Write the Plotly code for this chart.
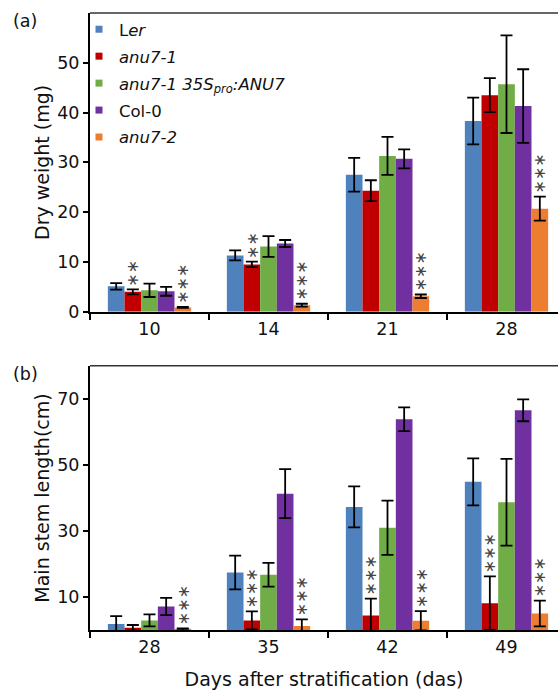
import plotly.graph_objects as go

# ---- data -------------------------------------------------------------
genotypes = ["Ler", "anu7-1", "anu7-1 35Spro:ANU7", "Col-0", "anu7-2"]
legend_labels = ["L<i>er</i>", "<i>anu7-1</i>",
                 "<i>anu7-1 35S<sub>pro</sub>:ANU7</i>", "Col-0", "<i>anu7-2</i>"]
colors = ["#4F81BD", "#C00000", "#70AD47", "#7030A0", "#ED7D31"]

# (a) dry weight (mg)
days_a = ["10", "14", "21", "28"]
dry_mean = {
    "Ler":                [5.1, 11.3, 27.5, 38.3],
    "anu7-1":             [4.0, 9.5, 24.3, 43.5],
    "anu7-1 35Spro:ANU7": [4.3, 13.1, 31.3, 45.7],
    "Col-0":              [4.1, 13.7, 30.7, 41.3],
    "anu7-2":             [0.85, 1.3, 3.1, 20.7],
}
dry_err = {
    "Ler":                [0.65, 1.0, 3.4, 4.7],
    "anu7-1":             [0.5, 0.55, 2.1, 3.4],
    "anu7-1 35Spro:ANU7": [1.35, 2.1, 3.8, 9.8],
    "Col-0":              [0.9, 0.7, 1.9, 7.4],
    "anu7-2":             [0.1, 0.3, 0.35, 2.4],
}
dry_sig = {
    "anu7-1": [2, 2, 0, 0],
    "anu7-2": [3, 3, 3, 3],
}

# (b) main stem length (cm)
days_b = ["28", "35", "42", "49"]
stem_mean = {
    "Ler":                [1.9, 17.5, 37.3, 44.9],
    "anu7-1":             [0.8, 3.0, 4.5, 8.2],
    "anu7-1 35Spro:ANU7": [3.0, 16.8, 31.0, 38.7],
    "Col-0":              [7.2, 41.3, 63.8, 66.5],
    "anu7-2":             [0.3, 1.3, 2.9, 5.1],
}
stem_err = {
    "Ler":                [2.4, 5.1, 6.2, 7.1],
    "anu7-1":             [0.8, 2.7, 5.1, 8.1],
    "anu7-1 35Spro:ANU7": [1.8, 3.6, 8.2, 13.1],
    "Col-0":              [2.6, 7.4, 3.6, 3.3],
    "anu7-2":             [0.3, 2.0, 2.9, 3.9],
}
stem_sig = {
    "anu7-1": [0, 3, 3, 3],
    "anu7-2": [3, 3, 3, 3],
}

# ---- figure -----------------------------------------------------------
W, H = 558, 690
FONT = "DejaVu Sans, Verdana, sans-serif"
INK = "#111111"
fig = go.Figure()

panels = [
    ("x", "y", days_a, dry_mean, dry_err, dry_sig),
    ("x2", "y2", days_b, stem_mean, stem_err, stem_sig),
]

n = len(genotypes)
group_frac = 0.7
bar_w = group_frac / n

for (xa, ya, days, mean, err, sig) in panels:
    for i, g in enumerate(genotypes):
        fig.add_trace(go.Bar(
            x=days, y=mean[g], name=g, xaxis=xa, yaxis=ya,
            marker=dict(color=colors[i], line=dict(width=0)),
            error_y=dict(type="data", array=err[g], visible=True,
                         color="black", thickness=1.8, width=6),
            showlegend=False,
        ))
        # significance asterisks, stacked as one rotated run of glyphs
        if g in sig:
            for j, cnt in enumerate(sig[g]):
                if cnt == 0:
                    continue
                top = mean[g][j] + err[g][j]
                fig.add_annotation(
                    x=j + (i - (n - 1) / 2) * bar_w, y=top,
                    xref=xa, yref=ya, text="∗" * cnt, textangle=-90,
                    showarrow=False, yanchor="bottom", xanchor="center",
                    yshift=2, borderpad=0,
                    font=dict(family="DejaVu Sans", size=16, color="#444"),
                )

# legend entries as small square markers
for i, lab in enumerate(legend_labels):
    fig.add_trace(go.Scatter(
        x=[None], y=[None], mode="markers", name=lab, xaxis="x", yaxis="y",
        marker=dict(symbol="square", size=7, color=colors[i]),
        legendgroup=f"g{i}", showlegend=True,
    ))

x_dom = [90 / W, 1.0]
ya_dom = [1 - 311.7 / H, 1 - 13 / H]
yb_dom = [1 - 630.3 / H, 1 - 365.7 / H]
x_range = [-0.5, -0.5 + (W - 90) / 119]

tick_font = dict(family=FONT, size=17.5, color=INK)
title_font = dict(family=FONT, size=19, color=INK)

common_x = dict(
    type="category", range=x_range, tickson="boundaries",
    ticks="outside", ticklen=6, tickwidth=2, tickcolor="black",
    showline=True, linecolor="black", linewidth=2,
    showgrid=False, zeroline=False, tickfont=tick_font, automargin=False,
)
common_y = dict(
    ticks="outside", ticklen=5, tickwidth=2, tickcolor="black",
    showline=True, linecolor="black", linewidth=2,
    showgrid=False, zeroline=False, tickfont=tick_font, automargin=False,
    title_font=title_font,
)

fig.update_layout(
    width=W, height=H,
    margin=dict(l=0, r=0, t=0, b=0),
    paper_bgcolor="white", plot_bgcolor="white",
    barmode="group", bargap=1 - group_frac, bargroupgap=0,
    font=dict(family=FONT, color=INK),
    xaxis=dict(domain=x_dom, anchor="y", **common_x),
    yaxis=dict(domain=ya_dom, anchor="x", range=[0, 60],
               tickvals=[0, 10, 20, 30, 40, 50],
               title=dict(text="Dry weight (mg)", standoff=3), **common_y),
    xaxis2=dict(domain=x_dom, anchor="y2",
                title=dict(text="Days after stratification (das)",
                           font=title_font, standoff=17),
                **common_x),
    yaxis2=dict(domain=yb_dom, anchor="x2", range=[0, 80],
                tickvals=[10, 30, 50, 70],
                title=dict(text="Main stem length(cm)", standoff=3), **common_y),
    legend=dict(
        x=79 / W, y=1 - 12 / H, xanchor="left", yanchor="top",
        font=dict(family=FONT, size=16.5, color=INK),
        bgcolor="rgba(0,0,0,0)", tracegroupgap=2.5, itemwidth=30,
    ),
)

# thin frame line along the top of each panel
for xd, yd in (("x domain", "y domain"), ("x2 domain", "y2 domain")):
    fig.add_shape(type="line", xref=xd, yref=yd, x0=0, x1=1, y0=1, y1=1,
                  line=dict(color="#333", width=1.4))

# panel letters
for lab, ypx in (("(a)", 21), ("(b)", 374)):
    fig.add_annotation(text=lab, xref="paper", yref="paper",
                       x=11 / W, y=1 - ypx / H, xanchor="left", yanchor="middle",
                       showarrow=False, font=dict(family=FONT, size=17.5, color=INK))

fig.write_html("out.html")
